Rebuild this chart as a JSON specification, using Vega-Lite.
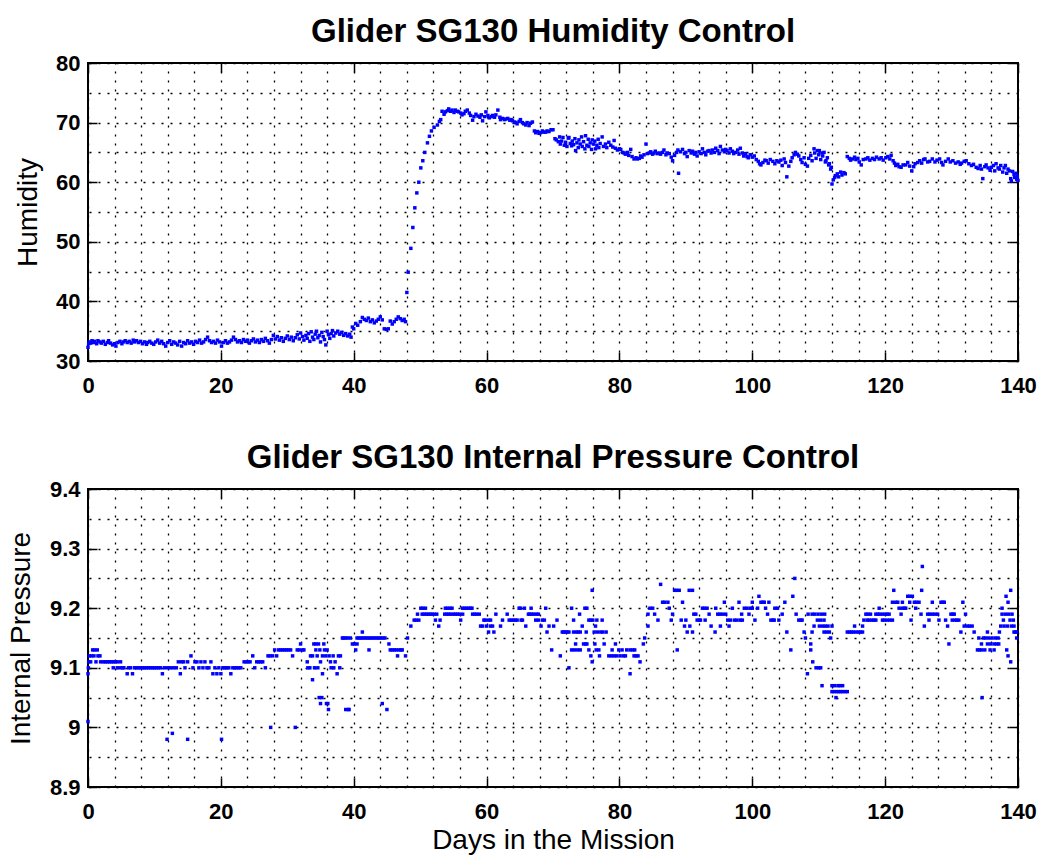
{
  "$schema": "https://vega.github.io/schema/vega-lite/v6.json",
  "background": "white",
  "padding": {"left": 6, "top": 15, "right": 20, "bottom": 2},
  "spacing": 44,
  "datasets": {
    "humidity": [
      {"day": 0.0, "rh": 32.3}, {"day": 0.1, "rh": 32.9}, {"day": 0.2, "rh": 33.2}, {"day": 0.4, "rh": 33.0}, {"day": 0.6, "rh": 33.4},
      {"day": 0.8, "rh": 33.1}, {"day": 1.0, "rh": 33.3}, {"day": 1.3, "rh": 32.9}, {"day": 1.5, "rh": 33.4}, {"day": 1.8, "rh": 33.2},
      {"day": 2.0, "rh": 33.0}, {"day": 2.3, "rh": 33.3}, {"day": 2.6, "rh": 32.8}, {"day": 2.9, "rh": 33.1}, {"day": 3.1, "rh": 33.4},
      {"day": 3.4, "rh": 33.0}, {"day": 3.7, "rh": 32.7}, {"day": 4.0, "rh": 32.9}, {"day": 4.2, "rh": 32.5}, {"day": 4.5, "rh": 33.1},
      {"day": 4.8, "rh": 33.3}, {"day": 5.1, "rh": 32.9}, {"day": 5.3, "rh": 33.2}, {"day": 5.6, "rh": 33.4}, {"day": 5.9, "rh": 33.1},
      {"day": 6.2, "rh": 33.3}, {"day": 6.5, "rh": 33.0}, {"day": 6.8, "rh": 33.5}, {"day": 7.0, "rh": 33.2}, {"day": 7.3, "rh": 33.4},
      {"day": 7.6, "rh": 33.1}, {"day": 7.9, "rh": 33.3}, {"day": 8.2, "rh": 32.9}, {"day": 8.5, "rh": 33.2}, {"day": 8.8, "rh": 32.8},
      {"day": 9.0, "rh": 33.1}, {"day": 9.3, "rh": 33.3}, {"day": 9.6, "rh": 33.0}, {"day": 9.9, "rh": 32.8}, {"day": 10.2, "rh": 33.2},
      {"day": 10.5, "rh": 33.5}, {"day": 10.8, "rh": 33.0}, {"day": 11.1, "rh": 33.3}, {"day": 11.4, "rh": 32.9}, {"day": 11.7, "rh": 32.5},
      {"day": 12.0, "rh": 33.1}, {"day": 12.3, "rh": 33.4}, {"day": 12.6, "rh": 32.8}, {"day": 12.9, "rh": 33.2}, {"day": 13.2, "rh": 33.0},
      {"day": 13.5, "rh": 32.7}, {"day": 13.8, "rh": 33.3}, {"day": 14.1, "rh": 32.5}, {"day": 14.4, "rh": 33.1}, {"day": 14.7, "rh": 32.9},
      {"day": 15.0, "rh": 33.4}, {"day": 15.3, "rh": 33.0}, {"day": 15.6, "rh": 33.2}, {"day": 15.9, "rh": 32.8}, {"day": 16.2, "rh": 33.3},
      {"day": 16.5, "rh": 33.1}, {"day": 16.8, "rh": 33.5}, {"day": 17.1, "rh": 33.0}, {"day": 17.4, "rh": 33.2}, {"day": 17.7, "rh": 33.6},
      {"day": 18.0, "rh": 34.0}, {"day": 18.3, "rh": 33.4}, {"day": 18.6, "rh": 33.1}, {"day": 18.9, "rh": 33.3}, {"day": 19.2, "rh": 33.0},
      {"day": 19.5, "rh": 33.5}, {"day": 19.8, "rh": 33.2}, {"day": 20.1, "rh": 32.5}, {"day": 20.4, "rh": 33.1}, {"day": 20.7, "rh": 33.4},
      {"day": 21.0, "rh": 33.0}, {"day": 21.3, "rh": 33.2}, {"day": 21.6, "rh": 33.5}, {"day": 21.9, "rh": 34.0}, {"day": 22.2, "rh": 33.6},
      {"day": 22.5, "rh": 33.2}, {"day": 22.8, "rh": 33.4}, {"day": 23.1, "rh": 33.1}, {"day": 23.4, "rh": 33.6}, {"day": 23.7, "rh": 33.3},
      {"day": 24.0, "rh": 33.5}, {"day": 24.3, "rh": 33.0}, {"day": 24.6, "rh": 33.4}, {"day": 24.9, "rh": 33.7}, {"day": 25.2, "rh": 33.2},
      {"day": 25.5, "rh": 33.5}, {"day": 25.8, "rh": 33.1}, {"day": 26.1, "rh": 33.6}, {"day": 26.4, "rh": 33.3}, {"day": 26.7, "rh": 33.8},
      {"day": 27.0, "rh": 33.4}, {"day": 27.3, "rh": 33.0}, {"day": 27.6, "rh": 33.6}, {"day": 27.9, "rh": 34.3}, {"day": 28.2, "rh": 33.7},
      {"day": 28.5, "rh": 34.1}, {"day": 28.8, "rh": 33.5}, {"day": 29.1, "rh": 33.9}, {"day": 29.4, "rh": 33.3}, {"day": 29.7, "rh": 33.8},
      {"day": 30.0, "rh": 34.2}, {"day": 30.3, "rh": 33.6}, {"day": 30.6, "rh": 34.0}, {"day": 30.9, "rh": 33.4}, {"day": 31.2, "rh": 33.9},
      {"day": 31.5, "rh": 34.4}, {"day": 31.8, "rh": 33.7}, {"day": 32.0, "rh": 34.7}, {"day": 32.3, "rh": 34.1}, {"day": 32.5, "rh": 33.5},
      {"day": 32.8, "rh": 34.3}, {"day": 33.0, "rh": 33.8}, {"day": 33.2, "rh": 34.6}, {"day": 33.4, "rh": 33.3}, {"day": 33.6, "rh": 34.9},
      {"day": 33.8, "rh": 34.0}, {"day": 34.0, "rh": 33.6}, {"day": 34.2, "rh": 34.5}, {"day": 34.4, "rh": 35.0}, {"day": 34.6, "rh": 33.9},
      {"day": 34.8, "rh": 34.3}, {"day": 35.0, "rh": 33.2}, {"day": 35.2, "rh": 34.8}, {"day": 35.4, "rh": 34.1}, {"day": 35.6, "rh": 33.6},
      {"day": 35.8, "rh": 32.7}, {"day": 36.0, "rh": 35.0}, {"day": 36.2, "rh": 34.4}, {"day": 36.4, "rh": 33.8}, {"day": 36.6, "rh": 34.6},
      {"day": 36.8, "rh": 35.1}, {"day": 37.0, "rh": 34.2}, {"day": 37.3, "rh": 34.7}, {"day": 37.6, "rh": 35.0}, {"day": 37.9, "rh": 34.5},
      {"day": 38.2, "rh": 34.8}, {"day": 38.5, "rh": 34.3}, {"day": 38.8, "rh": 34.6}, {"day": 39.1, "rh": 34.2}, {"day": 39.4, "rh": 34.5},
      {"day": 39.6, "rh": 34.0}, {"day": 39.8, "rh": 35.7}, {"day": 40.0, "rh": 35.4}, {"day": 40.3, "rh": 36.3}, {"day": 40.6, "rh": 36.0},
      {"day": 41.0, "rh": 36.6}, {"day": 41.3, "rh": 37.3}, {"day": 41.6, "rh": 37.0}, {"day": 41.9, "rh": 36.8}, {"day": 42.2, "rh": 37.2},
      {"day": 42.5, "rh": 36.6}, {"day": 42.8, "rh": 36.9}, {"day": 43.1, "rh": 36.4}, {"day": 43.4, "rh": 36.7}, {"day": 43.7, "rh": 37.0},
      {"day": 44.0, "rh": 37.4}, {"day": 44.3, "rh": 36.9}, {"day": 44.6, "rh": 35.4}, {"day": 44.9, "rh": 35.3}, {"day": 45.2, "rh": 35.4},
      {"day": 45.5, "rh": 36.7}, {"day": 45.8, "rh": 36.2}, {"day": 46.1, "rh": 36.6}, {"day": 46.4, "rh": 37.0}, {"day": 46.7, "rh": 37.4},
      {"day": 47.0, "rh": 37.1}, {"day": 47.3, "rh": 36.8}, {"day": 47.6, "rh": 37.0}, {"day": 47.8, "rh": 36.6}, {"day": 48.0, "rh": 41.5},
      {"day": 48.2, "rh": 44.9}, {"day": 48.6, "rh": 48.9}, {"day": 48.9, "rh": 52.4}, {"day": 49.2, "rh": 55.7}, {"day": 49.5, "rh": 58.2},
      {"day": 49.8, "rh": 60.0}, {"day": 50.1, "rh": 62.4}, {"day": 50.4, "rh": 63.6}, {"day": 50.7, "rh": 65.0}, {"day": 51.1, "rh": 66.6},
      {"day": 51.4, "rh": 67.7}, {"day": 51.7, "rh": 68.6}, {"day": 52.1, "rh": 69.2}, {"day": 52.6, "rh": 69.6}, {"day": 52.9, "rh": 70.2},
      {"day": 53.1, "rh": 70.5}, {"day": 53.3, "rh": 71.9}, {"day": 53.6, "rh": 71.4}, {"day": 53.8, "rh": 71.8}, {"day": 54.1, "rh": 72.0},
      {"day": 54.3, "rh": 72.3}, {"day": 54.6, "rh": 71.9}, {"day": 54.8, "rh": 72.1}, {"day": 55.1, "rh": 71.7}, {"day": 55.3, "rh": 72.1},
      {"day": 55.6, "rh": 71.9}, {"day": 55.8, "rh": 71.8}, {"day": 56.1, "rh": 71.6}, {"day": 56.3, "rh": 71.3}, {"day": 56.6, "rh": 71.5},
      {"day": 56.8, "rh": 71.9}, {"day": 57.1, "rh": 72.1}, {"day": 57.4, "rh": 71.6}, {"day": 57.6, "rh": 71.2}, {"day": 57.9, "rh": 70.4},
      {"day": 58.1, "rh": 71.0}, {"day": 58.4, "rh": 71.4}, {"day": 58.7, "rh": 71.1}, {"day": 59.0, "rh": 70.9}, {"day": 59.2, "rh": 71.3},
      {"day": 59.4, "rh": 70.3}, {"day": 59.7, "rh": 71.0}, {"day": 59.9, "rh": 71.8}, {"day": 60.2, "rh": 71.2}, {"day": 60.4, "rh": 70.8},
      {"day": 60.7, "rh": 71.0}, {"day": 60.9, "rh": 71.2}, {"day": 61.2, "rh": 70.9}, {"day": 61.4, "rh": 71.3}, {"day": 61.7, "rh": 72.1},
      {"day": 62.0, "rh": 70.9}, {"day": 62.1, "rh": 70.5}, {"day": 62.4, "rh": 70.7}, {"day": 62.7, "rh": 70.5}, {"day": 62.9, "rh": 70.6},
      {"day": 63.2, "rh": 70.7}, {"day": 63.5, "rh": 70.4}, {"day": 63.7, "rh": 70.5}, {"day": 63.9, "rh": 70.3}, {"day": 64.2, "rh": 70.1},
      {"day": 64.4, "rh": 70.0}, {"day": 64.6, "rh": 69.8}, {"day": 64.9, "rh": 70.2}, {"day": 65.1, "rh": 70.5}, {"day": 65.4, "rh": 70.0},
      {"day": 65.6, "rh": 69.8}, {"day": 65.9, "rh": 69.6}, {"day": 66.1, "rh": 70.0}, {"day": 66.4, "rh": 69.5}, {"day": 66.6, "rh": 69.9},
      {"day": 66.9, "rh": 70.1}, {"day": 67.2, "rh": 68.6}, {"day": 67.4, "rh": 68.3}, {"day": 67.7, "rh": 68.5}, {"day": 67.9, "rh": 68.2},
      {"day": 68.1, "rh": 68.3}, {"day": 68.4, "rh": 68.6}, {"day": 68.6, "rh": 68.4}, {"day": 68.9, "rh": 68.4}, {"day": 69.1, "rh": 68.6},
      {"day": 69.4, "rh": 68.5}, {"day": 69.7, "rh": 68.8}, {"day": 70.0, "rh": 68.8}, {"day": 70.3, "rh": 67.3}, {"day": 70.5, "rh": 67.1},
      {"day": 70.8, "rh": 66.8}, {"day": 71.0, "rh": 67.6}, {"day": 71.1, "rh": 66.4}, {"day": 71.3, "rh": 66.9}, {"day": 71.5, "rh": 67.5},
      {"day": 71.7, "rh": 66.2}, {"day": 71.9, "rh": 66.7}, {"day": 72.1, "rh": 66.0}, {"day": 72.3, "rh": 67.4}, {"day": 72.4, "rh": 67.5},
      {"day": 72.6, "rh": 66.5}, {"day": 72.8, "rh": 66.1}, {"day": 72.9, "rh": 66.9}, {"day": 73.1, "rh": 66.3}, {"day": 73.3, "rh": 67.3},
      {"day": 73.4, "rh": 65.3}, {"day": 73.6, "rh": 66.6}, {"day": 73.8, "rh": 65.8}, {"day": 73.9, "rh": 67.1}, {"day": 74.1, "rh": 66.4},
      {"day": 74.3, "rh": 67.6}, {"day": 74.4, "rh": 66.0}, {"day": 74.6, "rh": 66.8}, {"day": 74.8, "rh": 65.6}, {"day": 74.9, "rh": 67.8},
      {"day": 75.1, "rh": 66.2}, {"day": 75.3, "rh": 67.2}, {"day": 75.4, "rh": 66.0}, {"day": 75.6, "rh": 66.6}, {"day": 75.8, "rh": 65.5},
      {"day": 75.9, "rh": 67.1}, {"day": 76.1, "rh": 66.4}, {"day": 76.3, "rh": 66.9}, {"day": 76.4, "rh": 65.6}, {"day": 76.6, "rh": 66.2},
      {"day": 76.8, "rh": 67.2}, {"day": 76.9, "rh": 65.8}, {"day": 77.1, "rh": 66.5}, {"day": 77.4, "rh": 67.6}, {"day": 77.6, "rh": 66.0},
      {"day": 77.9, "rh": 66.4}, {"day": 78.1, "rh": 65.8}, {"day": 78.4, "rh": 66.7}, {"day": 78.7, "rh": 66.2}, {"day": 79.0, "rh": 65.9},
      {"day": 79.2, "rh": 67.0}, {"day": 79.4, "rh": 65.7}, {"day": 79.7, "rh": 65.4}, {"day": 80.0, "rh": 65.6}, {"day": 80.2, "rh": 65.5},
      {"day": 80.5, "rh": 65.0}, {"day": 80.7, "rh": 64.9}, {"day": 80.9, "rh": 64.7}, {"day": 81.2, "rh": 65.0}, {"day": 81.4, "rh": 64.5},
      {"day": 81.7, "rh": 65.5}, {"day": 81.9, "rh": 64.3}, {"day": 82.2, "rh": 63.9}, {"day": 82.5, "rh": 64.1}, {"day": 82.7, "rh": 63.9},
      {"day": 83.0, "rh": 64.0}, {"day": 83.2, "rh": 64.4}, {"day": 83.4, "rh": 64.2}, {"day": 83.7, "rh": 64.6}, {"day": 84.0, "rh": 66.4},
      {"day": 84.2, "rh": 64.8}, {"day": 84.5, "rh": 64.9}, {"day": 84.7, "rh": 65.1}, {"day": 85.0, "rh": 64.7}, {"day": 85.2, "rh": 64.9},
      {"day": 85.4, "rh": 65.2}, {"day": 85.7, "rh": 64.8}, {"day": 86.0, "rh": 64.9}, {"day": 86.2, "rh": 64.7}, {"day": 86.5, "rh": 65.0},
      {"day": 86.7, "rh": 65.4}, {"day": 87.0, "rh": 64.6}, {"day": 87.2, "rh": 64.9}, {"day": 87.5, "rh": 64.8}, {"day": 87.8, "rh": 64.2},
      {"day": 88.0, "rh": 63.6}, {"day": 88.3, "rh": 64.5}, {"day": 88.6, "rh": 65.0}, {"day": 88.8, "rh": 65.4}, {"day": 88.9, "rh": 61.5},
      {"day": 89.2, "rh": 65.1}, {"day": 89.5, "rh": 65.5}, {"day": 89.8, "rh": 64.8}, {"day": 90.0, "rh": 65.0}, {"day": 90.2, "rh": 64.3},
      {"day": 90.5, "rh": 65.3}, {"day": 90.8, "rh": 64.9}, {"day": 91.0, "rh": 65.2}, {"day": 91.3, "rh": 64.7}, {"day": 91.5, "rh": 65.0},
      {"day": 91.7, "rh": 64.4}, {"day": 92.0, "rh": 65.1}, {"day": 92.3, "rh": 64.8}, {"day": 92.5, "rh": 65.6}, {"day": 92.8, "rh": 65.0},
      {"day": 93.0, "rh": 64.6}, {"day": 93.3, "rh": 65.2}, {"day": 93.5, "rh": 65.3}, {"day": 93.8, "rh": 64.9}, {"day": 94.0, "rh": 65.4},
      {"day": 94.3, "rh": 65.0}, {"day": 94.5, "rh": 65.7}, {"day": 94.8, "rh": 65.3}, {"day": 95.0, "rh": 64.8}, {"day": 95.2, "rh": 66.0},
      {"day": 95.5, "rh": 65.4}, {"day": 95.8, "rh": 65.1}, {"day": 96.0, "rh": 65.5}, {"day": 96.2, "rh": 65.3}, {"day": 96.5, "rh": 64.9},
      {"day": 96.7, "rh": 65.6}, {"day": 97.0, "rh": 65.2}, {"day": 97.2, "rh": 64.8}, {"day": 97.5, "rh": 65.0}, {"day": 97.8, "rh": 65.4},
      {"day": 98.0, "rh": 64.7}, {"day": 98.2, "rh": 65.7}, {"day": 98.5, "rh": 64.9}, {"day": 98.7, "rh": 64.4}, {"day": 99.0, "rh": 64.8},
      {"day": 99.2, "rh": 64.3}, {"day": 99.4, "rh": 64.1}, {"day": 99.7, "rh": 64.6}, {"day": 100.0, "rh": 64.2}, {"day": 100.3, "rh": 64.4},
      {"day": 100.6, "rh": 63.8}, {"day": 100.9, "rh": 63.5}, {"day": 101.1, "rh": 63.1}, {"day": 101.3, "rh": 62.9}, {"day": 101.6, "rh": 63.3},
      {"day": 101.9, "rh": 63.7}, {"day": 102.1, "rh": 63.6}, {"day": 102.4, "rh": 63.2}, {"day": 102.7, "rh": 63.8}, {"day": 103.1, "rh": 63.5},
      {"day": 103.4, "rh": 63.1}, {"day": 103.7, "rh": 63.6}, {"day": 104.0, "rh": 63.4}, {"day": 104.3, "rh": 63.7}, {"day": 104.5, "rh": 62.8},
      {"day": 104.8, "rh": 63.9}, {"day": 105.0, "rh": 63.3}, {"day": 105.2, "rh": 60.9}, {"day": 105.5, "rh": 62.7}, {"day": 105.8, "rh": 63.5},
      {"day": 106.0, "rh": 64.1}, {"day": 106.3, "rh": 64.6}, {"day": 106.5, "rh": 65.0}, {"day": 106.8, "rh": 64.7}, {"day": 107.0, "rh": 64.4},
      {"day": 107.3, "rh": 63.8}, {"day": 107.5, "rh": 63.3}, {"day": 107.8, "rh": 64.1}, {"day": 108.0, "rh": 63.0}, {"day": 108.3, "rh": 62.7},
      {"day": 108.5, "rh": 64.0}, {"day": 108.8, "rh": 64.5}, {"day": 109.0, "rh": 63.6}, {"day": 109.3, "rh": 65.6}, {"day": 109.4, "rh": 64.9},
      {"day": 109.6, "rh": 64.0}, {"day": 109.8, "rh": 65.3}, {"day": 110.0, "rh": 64.6}, {"day": 110.1, "rh": 65.3}, {"day": 110.3, "rh": 63.8},
      {"day": 110.5, "rh": 64.9}, {"day": 110.6, "rh": 64.4}, {"day": 110.8, "rh": 65.0}, {"day": 111.0, "rh": 63.4}, {"day": 111.1, "rh": 63.6},
      {"day": 111.3, "rh": 64.1}, {"day": 111.5, "rh": 62.9}, {"day": 111.6, "rh": 63.1}, {"day": 111.8, "rh": 62.2}, {"day": 111.9, "rh": 62.5},
      {"day": 112.0, "rh": 59.7}, {"day": 112.2, "rh": 60.4}, {"day": 112.4, "rh": 60.8}, {"day": 112.5, "rh": 61.1}, {"day": 112.8, "rh": 61.4},
      {"day": 113.0, "rh": 60.9}, {"day": 113.3, "rh": 61.7}, {"day": 113.5, "rh": 61.2}, {"day": 113.8, "rh": 61.6}, {"day": 114.0, "rh": 61.4},
      {"day": 114.3, "rh": 64.3}, {"day": 114.6, "rh": 64.0}, {"day": 114.8, "rh": 63.7}, {"day": 115.1, "rh": 63.9}, {"day": 115.4, "rh": 64.2},
      {"day": 115.6, "rh": 63.8}, {"day": 115.9, "rh": 64.0}, {"day": 116.1, "rh": 63.4}, {"day": 116.4, "rh": 62.9}, {"day": 116.7, "rh": 63.8},
      {"day": 117.1, "rh": 63.9}, {"day": 117.4, "rh": 64.1}, {"day": 117.7, "rh": 63.7}, {"day": 118.1, "rh": 64.0}, {"day": 118.4, "rh": 63.8},
      {"day": 118.7, "rh": 64.2}, {"day": 119.1, "rh": 63.9}, {"day": 119.4, "rh": 64.1}, {"day": 119.7, "rh": 63.7}, {"day": 120.1, "rh": 64.1},
      {"day": 120.4, "rh": 64.3}, {"day": 120.7, "rh": 63.9}, {"day": 120.9, "rh": 64.5}, {"day": 121.2, "rh": 63.6}, {"day": 121.4, "rh": 63.2},
      {"day": 121.6, "rh": 62.8}, {"day": 121.9, "rh": 63.0}, {"day": 122.1, "rh": 62.6}, {"day": 122.4, "rh": 62.5}, {"day": 122.7, "rh": 62.9},
      {"day": 123.1, "rh": 62.9}, {"day": 123.4, "rh": 63.3}, {"day": 123.7, "rh": 62.7}, {"day": 124.0, "rh": 61.9}, {"day": 124.3, "rh": 62.6},
      {"day": 124.5, "rh": 63.1}, {"day": 124.9, "rh": 63.3}, {"day": 125.2, "rh": 63.6}, {"day": 125.5, "rh": 63.2}, {"day": 125.8, "rh": 63.8},
      {"day": 126.0, "rh": 63.9}, {"day": 126.4, "rh": 63.4}, {"day": 126.7, "rh": 63.5}, {"day": 127.1, "rh": 63.9}, {"day": 127.5, "rh": 63.4},
      {"day": 127.8, "rh": 63.7}, {"day": 128.2, "rh": 63.9}, {"day": 128.5, "rh": 63.3}, {"day": 128.7, "rh": 62.9}, {"day": 129.1, "rh": 63.5},
      {"day": 129.5, "rh": 63.9}, {"day": 129.8, "rh": 63.4}, {"day": 130.2, "rh": 63.6}, {"day": 130.6, "rh": 63.2}, {"day": 131.0, "rh": 63.4},
      {"day": 131.3, "rh": 63.0}, {"day": 131.5, "rh": 63.2}, {"day": 131.9, "rh": 63.5}, {"day": 132.2, "rh": 63.6}, {"day": 132.6, "rh": 63.1},
      {"day": 133.0, "rh": 62.8}, {"day": 133.3, "rh": 63.0}, {"day": 133.7, "rh": 62.5}, {"day": 134.0, "rh": 62.3}, {"day": 134.3, "rh": 62.8},
      {"day": 134.5, "rh": 62.2}, {"day": 134.7, "rh": 60.6}, {"day": 135.0, "rh": 62.6}, {"day": 135.2, "rh": 62.9}, {"day": 135.5, "rh": 62.4},
      {"day": 135.8, "rh": 62.0}, {"day": 136.0, "rh": 62.5}, {"day": 136.3, "rh": 62.8}, {"day": 136.5, "rh": 61.9}, {"day": 136.7, "rh": 63.1},
      {"day": 137.0, "rh": 62.4}, {"day": 137.2, "rh": 62.2}, {"day": 137.4, "rh": 62.8}, {"day": 137.7, "rh": 61.7}, {"day": 137.9, "rh": 62.4},
      {"day": 138.1, "rh": 62.8}, {"day": 138.3, "rh": 61.5}, {"day": 138.5, "rh": 62.2}, {"day": 138.7, "rh": 61.9}, {"day": 138.9, "rh": 60.6},
      {"day": 139.0, "rh": 60.2}, {"day": 139.2, "rh": 61.8}, {"day": 139.4, "rh": 61.3}, {"day": 139.5, "rh": 60.8}, {"day": 139.7, "rh": 61.5},
      {"day": 139.8, "rh": 60.5}, {"day": 139.9, "rh": 61.0}, {"day": 140.0, "rh": 60.3}
    ],
    "pressure": [
      {"day": 0.0, "p": 9.09}, {"day": 0.0, "p": 9.01}, {"day": 0.05, "p": 9.10}, {"day": 0.1, "p": 9.11}, {"day": 0.2, "p": 9.12},
      {"day": 0.4, "p": 9.11}, {"day": 0.5, "p": 9.12}, {"day": 0.7, "p": 9.13}, {"day": 0.9, "p": 9.12}, {"day": 1.0, "p": 9.13},
      {"day": 1.2, "p": 9.11}, {"day": 1.4, "p": 9.13}, {"day": 1.5, "p": 9.12}, {"day": 1.8, "p": 9.12}, {"day": 1.9, "p": 9.11},
      {"day": 2.3, "p": 9.11}, {"day": 2.6, "p": 9.11}, {"day": 2.9, "p": 9.11}, {"day": 3.2, "p": 9.11}, {"day": 3.5, "p": 9.11},
      {"day": 3.8, "p": 9.11}, {"day": 4.1, "p": 9.11}, {"day": 4.4, "p": 9.11}, {"day": 4.9, "p": 9.11}, {"day": 3.8, "p": 9.10},
      {"day": 4.4, "p": 9.10}, {"day": 4.9, "p": 9.10}, {"day": 5.2, "p": 9.10}, {"day": 5.4, "p": 9.10}, {"day": 5.9, "p": 9.09},
      {"day": 6.1, "p": 9.10}, {"day": 6.4, "p": 9.10}, {"day": 6.7, "p": 9.09}, {"day": 7.0, "p": 9.10}, {"day": 7.3, "p": 9.10},
      {"day": 7.6, "p": 9.10}, {"day": 7.9, "p": 9.10}, {"day": 8.2, "p": 9.10}, {"day": 8.5, "p": 9.10}, {"day": 8.8, "p": 9.10},
      {"day": 9.1, "p": 9.10}, {"day": 9.4, "p": 9.10}, {"day": 9.7, "p": 9.10}, {"day": 10.0, "p": 9.10}, {"day": 10.3, "p": 9.10},
      {"day": 10.6, "p": 9.10}, {"day": 10.9, "p": 9.10}, {"day": 11.2, "p": 9.09}, {"day": 11.5, "p": 9.10}, {"day": 11.9, "p": 8.98},
      {"day": 12.0, "p": 9.10}, {"day": 12.4, "p": 9.10}, {"day": 12.7, "p": 8.99}, {"day": 12.9, "p": 9.10}, {"day": 13.3, "p": 9.10},
      {"day": 13.6, "p": 9.11}, {"day": 13.9, "p": 9.09}, {"day": 14.1, "p": 9.11}, {"day": 14.4, "p": 9.11}, {"day": 14.6, "p": 9.10},
      {"day": 15.0, "p": 8.98}, {"day": 15.0, "p": 9.11}, {"day": 15.5, "p": 9.12}, {"day": 15.8, "p": 9.10}, {"day": 16.1, "p": 9.11},
      {"day": 16.4, "p": 9.11}, {"day": 16.7, "p": 9.10}, {"day": 17.0, "p": 9.11}, {"day": 17.3, "p": 9.10}, {"day": 17.6, "p": 9.11},
      {"day": 17.9, "p": 9.10}, {"day": 18.2, "p": 9.10}, {"day": 18.5, "p": 9.11}, {"day": 18.8, "p": 9.09}, {"day": 19.1, "p": 9.10},
      {"day": 19.4, "p": 9.09}, {"day": 19.7, "p": 9.10}, {"day": 20.1, "p": 8.98}, {"day": 20.0, "p": 9.09}, {"day": 20.3, "p": 9.10},
      {"day": 20.6, "p": 9.10}, {"day": 20.9, "p": 9.10}, {"day": 21.2, "p": 9.10}, {"day": 21.5, "p": 9.09}, {"day": 21.8, "p": 9.10},
      {"day": 22.1, "p": 9.10}, {"day": 22.4, "p": 9.10}, {"day": 22.7, "p": 9.10}, {"day": 23.0, "p": 9.10}, {"day": 23.5, "p": 9.11},
      {"day": 23.8, "p": 9.11}, {"day": 24.1, "p": 9.11}, {"day": 24.4, "p": 9.11}, {"day": 24.8, "p": 9.12}, {"day": 25.1, "p": 9.10},
      {"day": 25.4, "p": 9.11}, {"day": 25.7, "p": 9.11}, {"day": 26.0, "p": 9.11}, {"day": 26.3, "p": 9.11}, {"day": 26.7, "p": 9.10},
      {"day": 27.1, "p": 9.12}, {"day": 27.4, "p": 9.12}, {"day": 27.5, "p": 9.00}, {"day": 27.8, "p": 9.12}, {"day": 28.1, "p": 9.13},
      {"day": 28.4, "p": 9.12}, {"day": 28.7, "p": 9.13}, {"day": 29.0, "p": 9.13}, {"day": 29.3, "p": 9.13}, {"day": 29.6, "p": 9.13},
      {"day": 29.9, "p": 9.13}, {"day": 30.2, "p": 9.13}, {"day": 30.5, "p": 9.13}, {"day": 30.8, "p": 9.12}, {"day": 31.2, "p": 9.00},
      {"day": 31.5, "p": 9.13}, {"day": 31.8, "p": 9.13}, {"day": 32.0, "p": 9.14}, {"day": 32.3, "p": 9.13}, {"day": 32.5, "p": 9.13},
      {"day": 33.0, "p": 9.11}, {"day": 33.1, "p": 9.10}, {"day": 33.4, "p": 9.10}, {"day": 33.5, "p": 9.12}, {"day": 33.8, "p": 9.08},
      {"day": 33.8, "p": 9.12}, {"day": 34.0, "p": 9.14}, {"day": 34.1, "p": 9.10}, {"day": 34.3, "p": 9.14}, {"day": 34.3, "p": 9.13},
      {"day": 34.5, "p": 9.12}, {"day": 34.6, "p": 9.10}, {"day": 34.7, "p": 9.14}, {"day": 34.8, "p": 9.05}, {"day": 34.9, "p": 9.13},
      {"day": 35.0, "p": 9.11}, {"day": 35.0, "p": 9.04}, {"day": 35.2, "p": 9.05}, {"day": 35.3, "p": 9.09}, {"day": 35.3, "p": 9.12},
      {"day": 35.5, "p": 9.14}, {"day": 35.6, "p": 9.13}, {"day": 35.8, "p": 9.12}, {"day": 35.9, "p": 9.04}, {"day": 36.0, "p": 9.13},
      {"day": 36.1, "p": 9.04}, {"day": 36.2, "p": 9.03}, {"day": 36.3, "p": 9.12}, {"day": 36.5, "p": 9.11}, {"day": 36.6, "p": 9.10},
      {"day": 36.9, "p": 9.12}, {"day": 37.0, "p": 9.10}, {"day": 37.2, "p": 9.11}, {"day": 37.5, "p": 9.09}, {"day": 37.7, "p": 9.12},
      {"day": 37.9, "p": 9.10}, {"day": 38.0, "p": 9.12}, {"day": 38.3, "p": 9.15}, {"day": 38.5, "p": 9.15}, {"day": 38.8, "p": 9.03},
      {"day": 38.8, "p": 9.15}, {"day": 39.1, "p": 9.15}, {"day": 39.2, "p": 9.03}, {"day": 39.5, "p": 9.15}, {"day": 39.3, "p": 9.03},
      {"day": 39.8, "p": 9.14}, {"day": 40.1, "p": 9.14}, {"day": 40.3, "p": 9.13}, {"day": 40.5, "p": 9.14}, {"day": 40.5, "p": 9.15},
      {"day": 40.8, "p": 9.15}, {"day": 41.1, "p": 9.15}, {"day": 41.3, "p": 9.16}, {"day": 41.4, "p": 9.15}, {"day": 41.7, "p": 9.15},
      {"day": 42.0, "p": 9.15}, {"day": 42.3, "p": 9.13}, {"day": 42.3, "p": 9.15}, {"day": 42.6, "p": 9.15}, {"day": 42.9, "p": 9.15},
      {"day": 43.2, "p": 9.15}, {"day": 43.5, "p": 9.15}, {"day": 43.8, "p": 9.15}, {"day": 44.1, "p": 9.15}, {"day": 44.3, "p": 9.04},
      {"day": 44.4, "p": 9.15}, {"day": 44.7, "p": 9.15}, {"day": 45.0, "p": 9.03}, {"day": 45.3, "p": 9.14}, {"day": 45.5, "p": 9.13},
      {"day": 45.8, "p": 9.13}, {"day": 46.1, "p": 9.13}, {"day": 46.4, "p": 9.13}, {"day": 46.6, "p": 9.12}, {"day": 46.8, "p": 9.13},
      {"day": 47.1, "p": 9.13}, {"day": 47.3, "p": 9.13}, {"day": 47.8, "p": 9.12}, {"day": 48.1, "p": 9.15}, {"day": 48.6, "p": 9.17},
      {"day": 49.1, "p": 9.18}, {"day": 49.4, "p": 9.18}, {"day": 49.6, "p": 9.19}, {"day": 49.8, "p": 9.18}, {"day": 50.1, "p": 9.20},
      {"day": 50.3, "p": 9.19}, {"day": 50.4, "p": 9.20}, {"day": 50.6, "p": 9.19}, {"day": 50.8, "p": 9.20}, {"day": 50.9, "p": 9.19},
      {"day": 51.2, "p": 9.19}, {"day": 51.5, "p": 9.19}, {"day": 51.8, "p": 9.19}, {"day": 52.1, "p": 9.19}, {"day": 52.3, "p": 9.18},
      {"day": 52.5, "p": 9.19}, {"day": 52.8, "p": 9.17}, {"day": 53.0, "p": 9.18}, {"day": 53.7, "p": 9.19}, {"day": 53.8, "p": 9.20},
      {"day": 54.0, "p": 9.19}, {"day": 54.1, "p": 9.20}, {"day": 54.3, "p": 9.19}, {"day": 54.5, "p": 9.20}, {"day": 54.6, "p": 9.19},
      {"day": 54.8, "p": 9.20}, {"day": 55.0, "p": 9.19}, {"day": 55.3, "p": 9.19}, {"day": 55.6, "p": 9.19}, {"day": 55.9, "p": 9.19},
      {"day": 56.1, "p": 9.18}, {"day": 56.4, "p": 9.19}, {"day": 56.4, "p": 9.20}, {"day": 56.7, "p": 9.20}, {"day": 57.0, "p": 9.20},
      {"day": 57.3, "p": 9.20}, {"day": 57.6, "p": 9.20}, {"day": 57.8, "p": 9.20}, {"day": 57.9, "p": 9.19}, {"day": 58.2, "p": 9.19},
      {"day": 58.5, "p": 9.19}, {"day": 58.9, "p": 9.19}, {"day": 59.1, "p": 9.17}, {"day": 59.4, "p": 9.17}, {"day": 59.6, "p": 9.18},
      {"day": 59.8, "p": 9.18}, {"day": 60.0, "p": 9.17}, {"day": 60.3, "p": 9.16}, {"day": 60.3, "p": 9.18}, {"day": 60.6, "p": 9.17},
      {"day": 60.6, "p": 9.18}, {"day": 60.9, "p": 9.17}, {"day": 61.1, "p": 9.16}, {"day": 61.4, "p": 9.19}, {"day": 62.1, "p": 9.17},
      {"day": 62.4, "p": 9.18}, {"day": 63.1, "p": 9.19}, {"day": 63.4, "p": 9.18}, {"day": 63.7, "p": 9.18}, {"day": 64.0, "p": 9.18},
      {"day": 64.3, "p": 9.18}, {"day": 64.6, "p": 9.18}, {"day": 64.9, "p": 9.20}, {"day": 65.1, "p": 9.20}, {"day": 65.2, "p": 9.18},
      {"day": 65.4, "p": 9.18}, {"day": 65.7, "p": 9.20}, {"day": 65.9, "p": 9.17}, {"day": 66.3, "p": 9.19}, {"day": 66.5, "p": 9.19},
      {"day": 66.7, "p": 9.20}, {"day": 66.8, "p": 9.19}, {"day": 67.1, "p": 9.19}, {"day": 67.4, "p": 9.18}, {"day": 67.5, "p": 9.19},
      {"day": 67.8, "p": 9.19}, {"day": 67.8, "p": 9.18}, {"day": 68.2, "p": 9.17}, {"day": 68.4, "p": 9.18}, {"day": 68.7, "p": 9.18},
      {"day": 68.9, "p": 9.20}, {"day": 69.1, "p": 9.16}, {"day": 69.4, "p": 9.17}, {"day": 69.8, "p": 9.13}, {"day": 70.1, "p": 9.17},
      {"day": 70.6, "p": 9.18}, {"day": 71.1, "p": 9.12}, {"day": 71.4, "p": 9.16}, {"day": 71.6, "p": 9.16}, {"day": 71.9, "p": 9.16},
      {"day": 72.1, "p": 9.16}, {"day": 72.4, "p": 9.10}, {"day": 72.4, "p": 9.16}, {"day": 72.8, "p": 9.20}, {"day": 72.8, "p": 9.13},
      {"day": 73.1, "p": 9.18}, {"day": 73.1, "p": 9.16}, {"day": 73.2, "p": 9.13}, {"day": 73.4, "p": 9.14}, {"day": 73.5, "p": 9.16},
      {"day": 73.7, "p": 9.13}, {"day": 73.8, "p": 9.16}, {"day": 74.0, "p": 9.19}, {"day": 74.1, "p": 9.16}, {"day": 74.1, "p": 9.13},
      {"day": 74.4, "p": 9.17}, {"day": 74.6, "p": 9.14}, {"day": 74.8, "p": 9.20}, {"day": 74.9, "p": 9.14}, {"day": 75.0, "p": 9.16},
      {"day": 75.1, "p": 9.20}, {"day": 75.1, "p": 9.14}, {"day": 75.4, "p": 9.18}, {"day": 75.4, "p": 9.13}, {"day": 75.7, "p": 9.12},
      {"day": 75.7, "p": 9.18}, {"day": 75.9, "p": 9.23}, {"day": 75.9, "p": 9.11}, {"day": 76.0, "p": 9.18}, {"day": 76.2, "p": 9.16},
      {"day": 76.3, "p": 9.14}, {"day": 76.4, "p": 9.17}, {"day": 76.5, "p": 9.13}, {"day": 76.6, "p": 9.18}, {"day": 76.7, "p": 9.16},
      {"day": 76.9, "p": 9.13}, {"day": 77.0, "p": 9.12}, {"day": 77.2, "p": 9.16}, {"day": 77.4, "p": 9.18}, {"day": 77.5, "p": 9.16},
      {"day": 77.7, "p": 9.14}, {"day": 78.0, "p": 9.16}, {"day": 78.4, "p": 9.12}, {"day": 78.8, "p": 9.12}, {"day": 78.9, "p": 9.13},
      {"day": 79.2, "p": 9.12}, {"day": 79.4, "p": 9.14}, {"day": 79.6, "p": 9.12}, {"day": 79.9, "p": 9.13}, {"day": 80.1, "p": 9.12},
      {"day": 80.4, "p": 9.13}, {"day": 80.6, "p": 9.12}, {"day": 80.9, "p": 9.12}, {"day": 81.1, "p": 9.13}, {"day": 81.6, "p": 9.09},
      {"day": 81.6, "p": 9.13}, {"day": 82.0, "p": 9.13}, {"day": 82.2, "p": 9.12}, {"day": 82.3, "p": 9.13}, {"day": 82.5, "p": 9.12},
      {"day": 82.8, "p": 9.12}, {"day": 83.1, "p": 9.11}, {"day": 83.6, "p": 9.14}, {"day": 83.8, "p": 9.15}, {"day": 84.3, "p": 9.17},
      {"day": 84.3, "p": 9.19}, {"day": 84.6, "p": 9.20}, {"day": 85.0, "p": 9.20}, {"day": 85.3, "p": 9.19}, {"day": 85.8, "p": 9.18},
      {"day": 86.2, "p": 9.24}, {"day": 86.5, "p": 9.21}, {"day": 86.8, "p": 9.21}, {"day": 87.3, "p": 9.21}, {"day": 87.5, "p": 9.20},
      {"day": 87.8, "p": 9.18}, {"day": 88.0, "p": 9.19}, {"day": 88.3, "p": 9.23}, {"day": 88.6, "p": 9.23}, {"day": 88.7, "p": 9.13},
      {"day": 89.0, "p": 9.23}, {"day": 89.3, "p": 9.18}, {"day": 89.5, "p": 9.21}, {"day": 89.8, "p": 9.17}, {"day": 90.0, "p": 9.18},
      {"day": 90.2, "p": 9.16}, {"day": 90.5, "p": 9.23}, {"day": 90.6, "p": 9.17}, {"day": 91.0, "p": 9.23}, {"day": 91.0, "p": 9.16},
      {"day": 91.2, "p": 9.19}, {"day": 91.5, "p": 9.19}, {"day": 91.7, "p": 9.18}, {"day": 92.0, "p": 9.18}, {"day": 92.2, "p": 9.18},
      {"day": 92.5, "p": 9.20}, {"day": 92.8, "p": 9.20}, {"day": 92.9, "p": 9.18}, {"day": 93.2, "p": 9.20}, {"day": 93.5, "p": 9.19},
      {"day": 93.8, "p": 9.17}, {"day": 94.4, "p": 9.16}, {"day": 94.5, "p": 9.20}, {"day": 94.8, "p": 9.19}, {"day": 95.1, "p": 9.19},
      {"day": 95.2, "p": 9.17}, {"day": 95.5, "p": 9.19}, {"day": 95.8, "p": 9.21}, {"day": 96.0, "p": 9.19}, {"day": 96.3, "p": 9.18},
      {"day": 96.5, "p": 9.17}, {"day": 96.7, "p": 9.18}, {"day": 97.0, "p": 9.20}, {"day": 97.3, "p": 9.18}, {"day": 97.7, "p": 9.18},
      {"day": 98.0, "p": 9.21}, {"day": 98.2, "p": 9.18}, {"day": 98.4, "p": 9.19}, {"day": 98.5, "p": 9.18}, {"day": 98.8, "p": 9.20},
      {"day": 99.2, "p": 9.20}, {"day": 99.5, "p": 9.19}, {"day": 99.7, "p": 9.20}, {"day": 100.0, "p": 9.21}, {"day": 100.0, "p": 9.20},
      {"day": 100.4, "p": 9.18}, {"day": 100.8, "p": 9.20}, {"day": 101.0, "p": 9.22}, {"day": 101.3, "p": 9.21}, {"day": 101.6, "p": 9.21},
      {"day": 101.8, "p": 9.21}, {"day": 102.0, "p": 9.20}, {"day": 102.3, "p": 9.19}, {"day": 102.5, "p": 9.21}, {"day": 102.8, "p": 9.18},
      {"day": 103.1, "p": 9.18}, {"day": 103.3, "p": 9.18}, {"day": 103.4, "p": 9.20}, {"day": 103.8, "p": 9.20}, {"day": 104.0, "p": 9.18},
      {"day": 104.5, "p": 9.19}, {"day": 104.9, "p": 9.21}, {"day": 105.2, "p": 9.16}, {"day": 105.8, "p": 9.13}, {"day": 106.1, "p": 9.22},
      {"day": 106.4, "p": 9.25}, {"day": 106.6, "p": 9.19}, {"day": 107.0, "p": 9.18}, {"day": 107.3, "p": 9.18}, {"day": 107.5, "p": 9.18},
      {"day": 107.8, "p": 9.16}, {"day": 108.0, "p": 9.15}, {"day": 108.3, "p": 9.09}, {"day": 108.4, "p": 9.19}, {"day": 108.8, "p": 9.14},
      {"day": 108.8, "p": 9.13}, {"day": 109.0, "p": 9.19}, {"day": 109.0, "p": 9.16}, {"day": 109.1, "p": 9.11}, {"day": 109.3, "p": 9.17},
      {"day": 109.4, "p": 9.19}, {"day": 109.6, "p": 9.10}, {"day": 109.8, "p": 9.18}, {"day": 109.9, "p": 9.19}, {"day": 110.0, "p": 9.10},
      {"day": 110.1, "p": 9.17}, {"day": 110.3, "p": 9.10}, {"day": 110.3, "p": 9.18}, {"day": 110.4, "p": 9.19}, {"day": 110.5, "p": 9.07},
      {"day": 110.6, "p": 9.17}, {"day": 110.8, "p": 9.16}, {"day": 110.8, "p": 9.18}, {"day": 110.9, "p": 9.19}, {"day": 111.0, "p": 9.17},
      {"day": 111.2, "p": 9.16}, {"day": 111.4, "p": 9.17}, {"day": 111.6, "p": 9.16}, {"day": 111.8, "p": 9.15}, {"day": 112.0, "p": 9.17},
      {"day": 112.0, "p": 9.07}, {"day": 112.0, "p": 9.06}, {"day": 112.3, "p": 9.06}, {"day": 112.4, "p": 9.07}, {"day": 112.6, "p": 9.05},
      {"day": 112.7, "p": 9.06}, {"day": 112.9, "p": 9.07}, {"day": 113.0, "p": 9.06}, {"day": 113.2, "p": 9.07}, {"day": 113.3, "p": 9.06},
      {"day": 113.6, "p": 9.07}, {"day": 113.6, "p": 9.06}, {"day": 114.0, "p": 9.06}, {"day": 114.3, "p": 9.06}, {"day": 114.3, "p": 9.16},
      {"day": 114.6, "p": 9.16}, {"day": 114.9, "p": 9.16}, {"day": 115.2, "p": 9.16}, {"day": 115.4, "p": 9.17}, {"day": 115.6, "p": 9.16},
      {"day": 116.0, "p": 9.16}, {"day": 116.3, "p": 9.16}, {"day": 116.6, "p": 9.16}, {"day": 116.6, "p": 9.17}, {"day": 116.8, "p": 9.18},
      {"day": 117.1, "p": 9.19}, {"day": 117.3, "p": 9.18}, {"day": 117.4, "p": 9.19}, {"day": 117.6, "p": 9.18}, {"day": 117.8, "p": 9.19},
      {"day": 118.0, "p": 9.18}, {"day": 118.3, "p": 9.18}, {"day": 118.6, "p": 9.18}, {"day": 118.6, "p": 9.19}, {"day": 118.9, "p": 9.19},
      {"day": 119.1, "p": 9.20}, {"day": 119.2, "p": 9.19}, {"day": 119.6, "p": 9.18}, {"day": 119.6, "p": 9.19}, {"day": 119.9, "p": 9.18},
      {"day": 120.0, "p": 9.19}, {"day": 120.3, "p": 9.19}, {"day": 120.3, "p": 9.18}, {"day": 120.6, "p": 9.19}, {"day": 120.7, "p": 9.18},
      {"day": 121.1, "p": 9.18}, {"day": 121.1, "p": 9.21}, {"day": 121.3, "p": 9.23}, {"day": 121.6, "p": 9.21}, {"day": 121.9, "p": 9.21},
      {"day": 122.1, "p": 9.20}, {"day": 122.4, "p": 9.19}, {"day": 122.6, "p": 9.20}, {"day": 122.6, "p": 9.21}, {"day": 122.9, "p": 9.20},
      {"day": 123.1, "p": 9.20}, {"day": 123.4, "p": 9.22}, {"day": 123.7, "p": 9.22}, {"day": 123.7, "p": 9.21}, {"day": 123.9, "p": 9.18},
      {"day": 124.1, "p": 9.22}, {"day": 124.4, "p": 9.21}, {"day": 124.6, "p": 9.20}, {"day": 124.7, "p": 9.21}, {"day": 125.1, "p": 9.21},
      {"day": 125.4, "p": 9.19}, {"day": 125.5, "p": 9.23}, {"day": 125.6, "p": 9.27}, {"day": 125.9, "p": 9.17}, {"day": 126.4, "p": 9.19},
      {"day": 126.6, "p": 9.18}, {"day": 126.7, "p": 9.19}, {"day": 127.1, "p": 9.21}, {"day": 127.1, "p": 9.19}, {"day": 127.5, "p": 9.19},
      {"day": 127.9, "p": 9.19}, {"day": 128.1, "p": 9.18}, {"day": 128.4, "p": 9.21}, {"day": 128.7, "p": 9.21}, {"day": 128.9, "p": 9.21},
      {"day": 129.1, "p": 9.18}, {"day": 129.4, "p": 9.17}, {"day": 129.6, "p": 9.14}, {"day": 129.9, "p": 9.19}, {"day": 130.1, "p": 9.18},
      {"day": 130.2, "p": 9.19}, {"day": 130.4, "p": 9.19}, {"day": 130.5, "p": 9.18}, {"day": 130.8, "p": 9.18}, {"day": 131.1, "p": 9.18},
      {"day": 131.4, "p": 9.16}, {"day": 131.7, "p": 9.21}, {"day": 131.9, "p": 9.17}, {"day": 132.1, "p": 9.19}, {"day": 132.4, "p": 9.17},
      {"day": 132.7, "p": 9.17}, {"day": 133.1, "p": 9.17}, {"day": 133.4, "p": 9.16}, {"day": 133.9, "p": 9.13}, {"day": 134.1, "p": 9.15},
      {"day": 134.2, "p": 9.13}, {"day": 134.5, "p": 9.14}, {"day": 134.5, "p": 9.13}, {"day": 134.6, "p": 9.05}, {"day": 134.8, "p": 9.15},
      {"day": 135.0, "p": 9.13}, {"day": 135.1, "p": 9.15}, {"day": 135.4, "p": 9.16}, {"day": 135.4, "p": 9.14}, {"day": 135.6, "p": 9.15},
      {"day": 135.8, "p": 9.13}, {"day": 135.9, "p": 9.14}, {"day": 136.1, "p": 9.15}, {"day": 136.4, "p": 9.13}, {"day": 136.4, "p": 9.14},
      {"day": 136.6, "p": 9.15}, {"day": 136.8, "p": 9.14}, {"day": 137.0, "p": 9.15}, {"day": 137.1, "p": 9.14}, {"day": 137.2, "p": 9.16},
      {"day": 137.4, "p": 9.17}, {"day": 137.6, "p": 9.20}, {"day": 137.6, "p": 9.19}, {"day": 137.8, "p": 9.18}, {"day": 137.9, "p": 9.17},
      {"day": 138.1, "p": 9.19}, {"day": 138.2, "p": 9.22}, {"day": 138.3, "p": 9.13}, {"day": 138.4, "p": 9.17}, {"day": 138.5, "p": 9.21},
      {"day": 138.5, "p": 9.12}, {"day": 138.6, "p": 9.19}, {"day": 138.8, "p": 9.18}, {"day": 138.9, "p": 9.23}, {"day": 138.9, "p": 9.11},
      {"day": 139.0, "p": 9.17}, {"day": 139.1, "p": 9.19}, {"day": 139.3, "p": 9.18}, {"day": 139.4, "p": 9.16}, {"day": 139.4, "p": 9.17},
      {"day": 139.6, "p": 9.16}, {"day": 139.8, "p": 9.15}, {"day": 139.8, "p": 9.16}
    ]
  },
  "vconcat": [
    {
      "title": {"text": "Glider SG130 Humidity Control", "offset": 3},
      "width": 930,
      "height": 298,
      "data": {"name": "humidity"},
      "layer": [
        {
          "mark": {"type": "square", "size": 12, "color": "#0000ff", "opacity": 1},
          "encoding": {
            "x": {"field": "day", "type": "quantitative", "scale": {"domain": [0, 140], "nice": false},
              "axis": {"orient": "bottom", "title": null, "values": [0, 20, 40, 60, 80, 100, 120, 140]}},
            "y": {"field": "rh", "type": "quantitative", "scale": {"domain": [30, 80], "nice": false, "zero": false},
              "axis": {"orient": "left", "title": "Humidity", "values": [30, 40, 50, 60, 70, 80], "labelPadding": 17, "titlePadding": 13}}
          }
        },
        {
          "mark": {"type": "square", "opacity": 0},
          "encoding": {
            "x": {"field": "day", "type": "quantitative",
              "axis": {"orient": "top", "title": null, "labels": false, "ticks": false, "grid": true, "labelPadding": 0, "minExtent": 0, "maxExtent": 0,
                "values": [0, 4, 8, 12, 16, 20, 24, 28, 32, 36, 40, 44, 48, 52, 56, 60, 64, 68, 72, 76, 80, 84, 88, 92, 96, 100, 104, 108, 112, 116, 120, 124, 128, 132, 136, 140]}},
            "y": {"field": "rh", "type": "quantitative",
              "axis": {"orient": "right", "title": null, "labels": false, "ticks": false, "grid": true, "labelPadding": 0, "minExtent": 0, "maxExtent": 0,
                "values": [30, 35, 40, 45, 50, 55, 60, 65, 70, 75, 80]}}
          }
        },
        {
          "mark": {"type": "square", "opacity": 0},
          "encoding": {
            "x": {"field": "day", "type": "quantitative",
              "axis": {"orient": "top", "title": null, "labels": false, "labelPadding": 0, "minExtent": 0, "maxExtent": 0, "values": [0, 20, 40, 60, 80, 100, 120, 140]}},
            "y": {"field": "rh", "type": "quantitative",
              "axis": {"orient": "right", "title": null, "labels": false, "labelPadding": 0, "minExtent": 0, "maxExtent": 0, "values": [30, 40, 50, 60, 70, 80]}}
          }
        }
      ],
      "resolve": {"axis": {"x": "independent", "y": "independent"}}
    },
    {
      "title": {"text": "Glider SG130 Internal Pressure Control", "offset": 3},
      "width": 930,
      "height": 298,
      "data": {"name": "pressure"},
      "layer": [
        {
          "mark": {"type": "square", "size": 12, "color": "#0000ff", "opacity": 1},
          "encoding": {
            "x": {"field": "day", "type": "quantitative", "scale": {"domain": [0, 140], "nice": false},
              "axis": {"orient": "bottom", "title": "Days in the Mission", "values": [0, 20, 40, 60, 80, 100, 120, 140], "titlePadding": 4}},
            "y": {"field": "p", "type": "quantitative", "scale": {"domain": [8.9, 9.4], "nice": false, "zero": false},
              "axis": {"orient": "left", "title": "Internal Pressure", "values": [8.9, 9.0, 9.1, 9.2, 9.3, 9.4], "format": ".1~f", "labelPadding": 17, "titlePadding": 14}}
          }
        },
        {
          "mark": {"type": "square", "opacity": 0},
          "encoding": {
            "x": {"field": "day", "type": "quantitative",
              "axis": {"orient": "top", "title": null, "labels": false, "ticks": false, "grid": true, "labelPadding": 0, "minExtent": 0, "maxExtent": 0,
                "values": [0, 4, 8, 12, 16, 20, 24, 28, 32, 36, 40, 44, 48, 52, 56, 60, 64, 68, 72, 76, 80, 84, 88, 92, 96, 100, 104, 108, 112, 116, 120, 124, 128, 132, 136, 140]}},
            "y": {"field": "p", "type": "quantitative",
              "axis": {"orient": "right", "title": null, "labels": false, "ticks": false, "grid": true, "labelPadding": 0, "minExtent": 0, "maxExtent": 0,
                "values": [8.9, 8.95, 9.0, 9.05, 9.1, 9.15, 9.2, 9.25, 9.3, 9.35, 9.4]}}
          }
        },
        {
          "mark": {"type": "square", "opacity": 0},
          "encoding": {
            "x": {"field": "day", "type": "quantitative",
              "axis": {"orient": "top", "title": null, "labels": false, "labelPadding": 0, "minExtent": 0, "maxExtent": 0, "values": [0, 20, 40, 60, 80, 100, 120, 140]}},
            "y": {"field": "p", "type": "quantitative",
              "axis": {"orient": "right", "title": null, "labels": false, "labelPadding": 0, "minExtent": 0, "maxExtent": 0, "values": [8.9, 9.0, 9.1, 9.2, 9.3, 9.4]}}
          }
        }
      ],
      "resolve": {"axis": {"x": "independent", "y": "independent"}}
    }
  ],
  "config": {
    "font": "Liberation Sans",
    "view": {"stroke": "black", "strokeWidth": 2},
    "title": {"fontSize": 33, "fontWeight": "bold", "color": "black", "anchor": "middle"},
    "axis": {
      "domain": false,
      "grid": false,
      "gridColor": "black",
      "gridDash": [2, 7],
      "gridWidth": 1.3,
      "gridOpacity": 1,
      "tickSize": -9,
      "tickColor": "black",
      "tickWidth": 1.5,
      "labelFont": "Liberation Sans",
      "labelFontSize": 22,
      "labelFontWeight": "bold",
      "labelColor": "black",
      "labelPadding": 23,
      "labelFlush": false,
      "labelOverlap": false,
      "labelBound": false,
      "titleFont": "Liberation Sans",
      "titleFontSize": 28,
      "titleFontWeight": "normal",
      "titleColor": "black"
    }
  }
}
